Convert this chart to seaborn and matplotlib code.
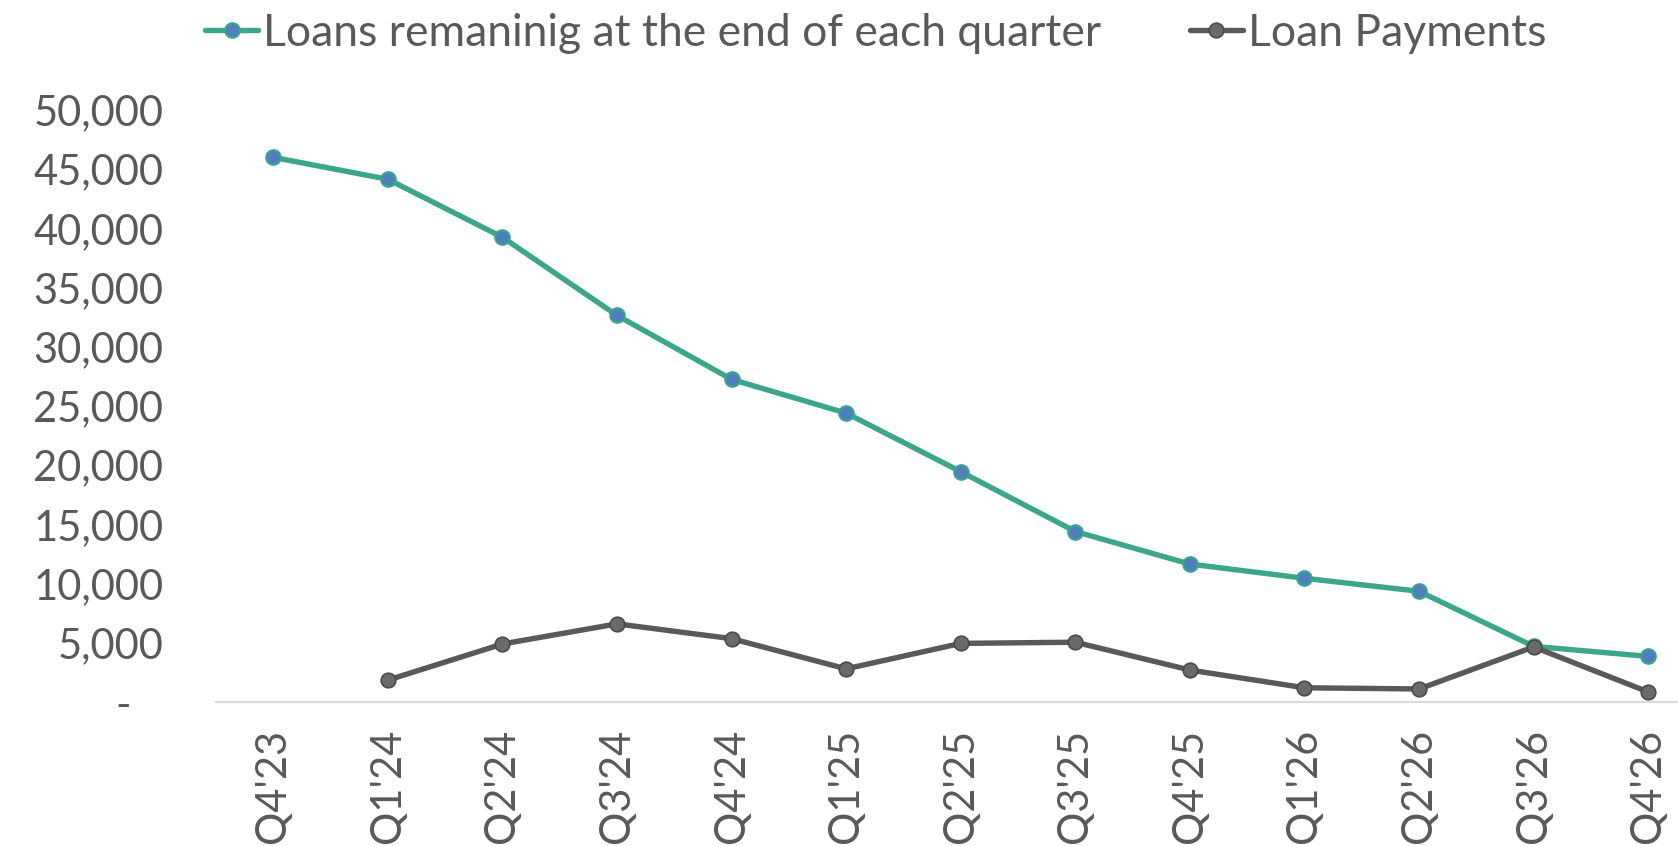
import matplotlib
matplotlib.use("Agg")
import matplotlib.pyplot as plt
import seaborn as sns
import pandas as pd
import numpy as np
from matplotlib.ticker import FuncFormatter

quarters = ["Q4'23", "Q1'24", "Q2'24", "Q3'24", "Q4'24", "Q1'25", "Q2'25",
            "Q3'25", "Q4'25", "Q1'26", "Q2'26", "Q3'26", "Q4'26"]
loans_remaining = [46000, 44150, 39250, 32650, 27250, 24400, 19450,
                   14400, 11650, 10450, 9350, 4700, 3850]
loan_payments = [np.nan, 1850, 4900, 6600, 5350, 2800, 4950,
                 5050, 2700, 1200, 1100, 4650, 850]

name_loans = "Loans remaninig at the end of each quarter"
name_pay = "Loan Payments"

sns.set_theme(style="white")
plt.rcParams['font.family'] = ['Lato', 'DejaVu Sans']

fig = plt.figure(figsize=(16.78, 8.46), dpi=100)
W, H = 1678, 846
ax = fig.add_axes([216 / W, 1 - 702 / H, (1678 - 216) / W, (702 - 110) / H])

df = pd.DataFrame({"x": np.arange(len(quarters)),
                   "loans": loans_remaining,
                   "pay": loan_payments})

teal = "#3BA68A"
gray = "#595959"
sns.lineplot(data=df, x="x", y="loans", ax=ax, color=teal, linewidth=3.9,
             marker="o", markersize=10.5, markerfacecolor="#4F7FBF",
             markeredgecolor=teal, markeredgewidth=1.5, label=name_loans,
             clip_on=False)
sns.lineplot(data=df.dropna(), x="x", y="pay", ax=ax, color=gray, linewidth=3.9,
             marker="o", markersize=10.5, markerfacecolor="#6A6A6A",
             markeredgecolor="#4a4a4a", markeredgewidth=1.2, label=name_pay,
             clip_on=False)

ax.set_ylim(0, 50000)
ax.set_xlim(-0.5, 12.26)
ax.set_yticks(np.arange(0, 50001, 5000))
ax.yaxis.set_major_formatter(FuncFormatter(lambda v, p: "-   " if v == 0 else f"{v:,.0f}"))
ax.set_xticks(np.arange(len(quarters)))
ax.set_xticklabels(quarters, rotation=90)
ax.tick_params(axis="both", labelsize=30, colors="#595959", length=0)
ax.tick_params(axis="y", pad=38)
ax.tick_params(axis="x", pad=19)
ax.set_xlabel("")
ax.set_ylabel("")
for s in ["top", "right", "left"]:
    ax.spines[s].set_visible(False)
ax.spines["bottom"].set_color("#d9d9d9")
ax.spines["bottom"].set_linewidth(1.5)

handles, labels = ax.get_legend_handles_labels()
ax.get_legend().remove()
leg = fig.legend(handles, labels, loc="center left", bbox_to_anchor=(205 / W, 1 - 33 / H),
                 ncol=2, frameon=False, fontsize=32, handlelength=1.2,
                 handletextpad=0.1, columnspacing=2.0, borderaxespad=0,
                 borderpad=0)
for t in leg.get_texts():
    t.set_color("#595959")

fig.savefig("out.png", dpi=100)
